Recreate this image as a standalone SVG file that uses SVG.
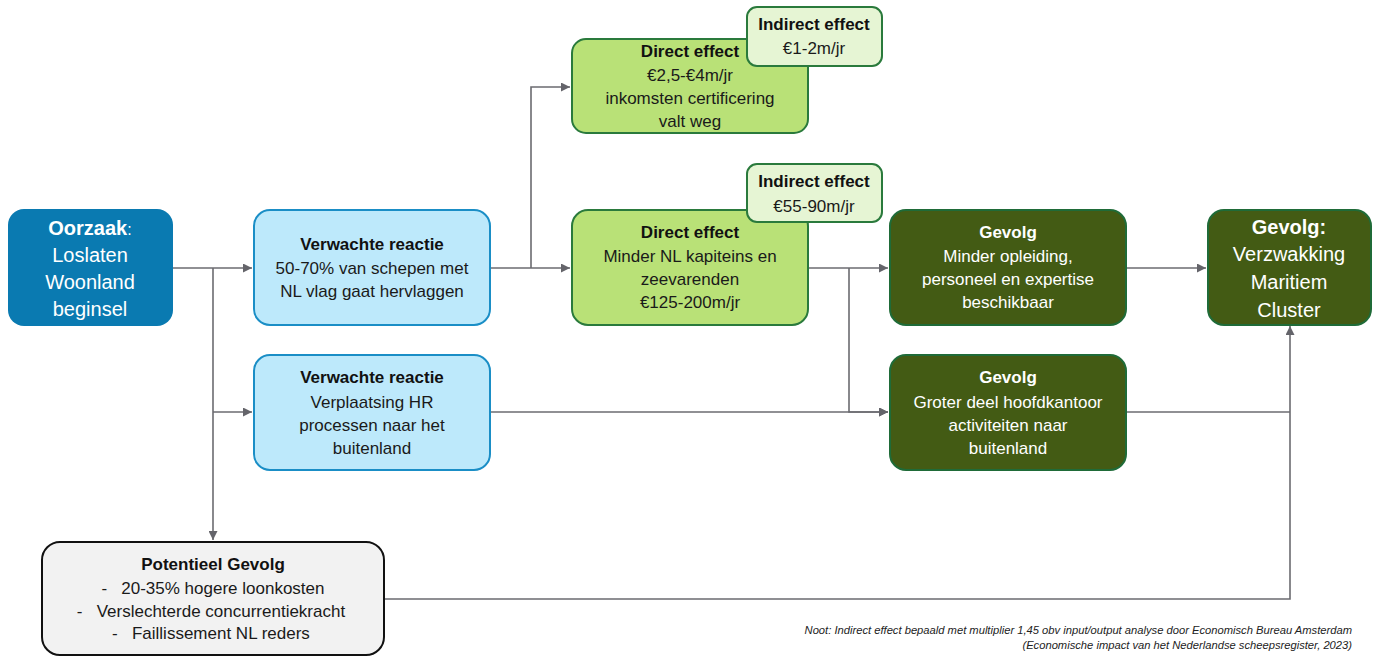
<svg xmlns="http://www.w3.org/2000/svg" width="1378" height="657" viewBox="0 0 1378 657">
<defs>
<marker id="arr" viewBox="0 0 10 10" refX="10" refY="5" markerWidth="9" markerHeight="9" markerUnits="userSpaceOnUse" orient="auto">
<path d="M0,0 L10,5 L0,10 z" fill="#64646a"/>
</marker>
<style>
text{font-family:"Liberation Sans",Arial,sans-serif;text-anchor:middle}
.t{font-size:17px;fill:#1a1a1a}
.tb{font-size:17px;font-weight:bold;fill:#111}
.w{font-size:20px;fill:#fff}
.wb{font-size:20px;font-weight:bold;fill:#fff}
.gw{font-size:17px;fill:#fff}
.gwb{font-size:17px;font-weight:bold;fill:#fff}
.cause{fill:#0a7ab1}
.vr{fill:#bde9fb;stroke:#1a8ec6;stroke-width:2}
.de{fill:#b9e177;stroke:#2a7a3c;stroke-width:2}
.ie{fill:#e6f5d4;stroke:#2a7a3c;stroke-width:2}
.gv{fill:#435b14;stroke:#1f6b38;stroke-width:2}
.pg{fill:#f2f2f2;stroke:#111;stroke-width:2}
.c{fill:none;stroke:#6b6b70;stroke-width:1.6}
.note{font-size:11.2px;font-style:italic;fill:#222;text-anchor:end}
</style>
</defs>

<g id="connectors">
<path class="c" d="M173,268 H252" marker-end="url(#arr)"/>
<path class="c" d="M213,268 V540" marker-end="url(#arr)"/>
<path class="c" d="M213,412 H252" marker-end="url(#arr)"/>
<path class="c" d="M490,268 H570" marker-end="url(#arr)"/>
<path class="c" d="M531,268 V87 H570" marker-end="url(#arr)"/>
<path class="c" d="M808,268 H888" marker-end="url(#arr)"/>
<path class="c" d="M849,268 V412 H888" marker-end="url(#arr)"/>
<path class="c" d="M490,412 H888" marker-end="url(#arr)"/>
<path class="c" d="M1126,268 H1206" marker-end="url(#arr)"/>
<path class="c" d="M1126,412 H1290"/>
<path class="c" d="M384,599 H1290 V326" marker-end="url(#arr)"/>
</g>

<g id="oorzaak">
<rect class="cause" x="8" y="209" width="165" height="117" rx="16"/>
<text x="90" y="235" class="wb">Oorzaak<tspan font-weight="normal" font-size="16">:</tspan></text>
<text x="90" y="262" class="w">Loslaten</text>
<text x="90" y="289" class="w">Woonland</text>
<text x="90" y="316" class="w">beginsel</text>
</g>

<g id="reactie1">
<rect class="vr" x="254" y="210" width="236" height="115" rx="16"/>
<text x="372" y="250" class="tb">Verwachte reactie</text>
<text x="372" y="274" class="t">50-70% van schepen met</text>
<text x="372" y="297" class="t">NL vlag gaat hervlaggen</text>
</g>

<g id="reactie2">
<rect class="vr" x="254" y="355" width="236" height="115" rx="16"/>
<text x="372" y="383" class="tb">Verwachte reactie</text>
<text x="372" y="408" class="t">Verplaatsing HR</text>
<text x="372" y="431" class="t">processen naar het</text>
<text x="372" y="454" class="t">buitenland</text>
</g>

<g id="direct1">
<rect class="de" x="572" y="39" width="236" height="94" rx="14"/>
<text x="690" y="57" class="tb">Direct effect</text>
<text x="690" y="81" class="t">€2,5-€4m/jr</text>
<text x="690" y="104" class="t">inkomsten certificering</text>
<text x="690" y="127" class="t">valt weg</text>
</g>

<g id="indirect1">
<rect class="ie" x="747" y="7" width="135" height="59" rx="10"/>
<text x="814" y="30" class="tb">Indirect effect</text>
<text x="814" y="54" class="t">€1-2m/jr</text>
</g>

<g id="direct2">
<rect class="de" x="572" y="210" width="236" height="115" rx="16"/>
<text x="690" y="238" class="tb">Direct effect</text>
<text x="690" y="262" class="t">Minder NL kapiteins en</text>
<text x="690" y="285" class="t">zeevarenden</text>
<text x="690" y="308" class="t">€125-200m/jr</text>
</g>

<g id="indirect2">
<rect class="ie" x="747" y="164" width="135" height="58" rx="10"/>
<text x="814" y="187" class="tb">Indirect effect</text>
<text x="814" y="212" class="t">€55-90m/jr</text>
</g>

<g id="gevolg1">
<rect class="gv" x="890" y="210" width="236" height="115" rx="16"/>
<text x="1008" y="238" class="gwb">Gevolg</text>
<text x="1008" y="262" class="gw">Minder opleiding,</text>
<text x="1008" y="285" class="gw">personeel en expertise</text>
<text x="1008" y="308" class="gw">beschikbaar</text>
</g>

<g id="gevolg2">
<rect class="gv" x="890" y="355" width="236" height="115" rx="16"/>
<text x="1008" y="383" class="gwb">Gevolg</text>
<text x="1008" y="408" class="gw">Groter deel hoofdkantoor</text>
<text x="1008" y="431" class="gw">activiteiten naar</text>
<text x="1008" y="454" class="gw">buitenland</text>
</g>

<g id="gevolg-final">
<rect class="gv" x="1208" y="210" width="163" height="115" rx="16"/>
<text x="1289" y="234" class="wb">Gevolg:</text>
<text x="1289" y="261" class="w">Verzwakking</text>
<text x="1289" y="289" class="w">Maritiem</text>
<text x="1289" y="317" class="w">Cluster</text>
</g>

<g id="potentieel">
<rect class="pg" x="42" y="542" width="342" height="113" rx="18"/>
<text x="213" y="570" class="tb">Potentieel Gevolg</text>
<text x="213" y="594" class="t">-&#160;&#160;&#160;20-35% hogere loonkosten</text>
<text x="211" y="617" class="t">-&#160;&#160;&#160;Verslechterde concurrentiekracht</text>
<text x="211" y="639" class="t">-&#160;&#160;&#160;Faillissement NL reders</text>
</g>

<g id="noot">
<text x="1352" y="634" class="note">Noot: Indirect effect bepaald met multiplier 1,45 obv input/output analyse door Economisch Bureau Amsterdam</text>
<text x="1352" y="649" class="note">(Economische impact van het Nederlandse scheepsregister, 2023)</text>
</g>
</svg>
